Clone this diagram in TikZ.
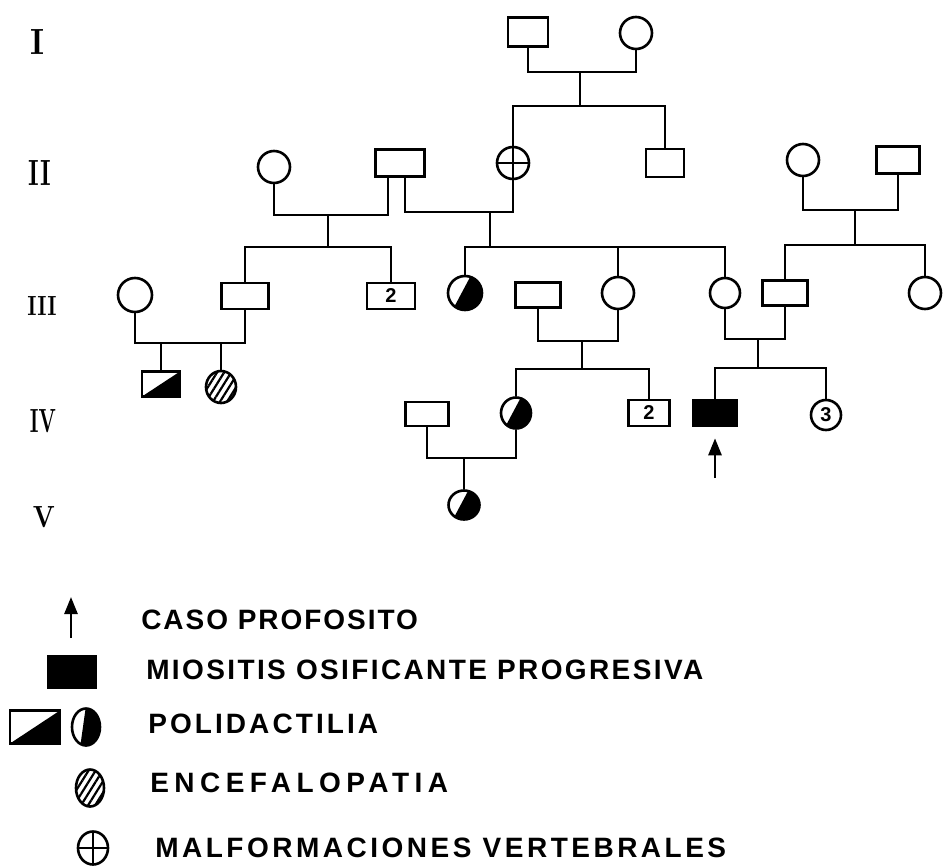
\documentclass[tikz,border=0pt]{standalone}
\usepackage{fontspec}
\usepackage{graphicx}
\newfontfamily\legendfont{Liberation Sans}
\usetikzlibrary{shapes.geometric}
\usetikzlibrary{patterns.meta}
\usetikzlibrary{arrows.meta}
\newcommand{\gen}[3]{\resizebox{#1}{#2}{\bfseries #3}}
\newcommand{\spaced}[2]{{\addfontfeature{LetterSpace=#1}#2}}
\tikzset{
  ind/.style={draw, inner sep=0pt},
  male/.style={ind, rectangle, minimum width=44pt, minimum height=26pt},
  female/.style={ind, ellipse, minimum width=32pt, minimum height=32pt},
  affected/.style={fill=black},
  halfbox/.style={path picture={\fill (path picture bounding box.south west) -- (path picture bounding box.south east) -- (path picture bounding box.north east) -- cycle;}},
  halfdisc/.style={path picture={\fill (path picture bounding box.center) ++(#1+90:3pt) ++(#1:30pt) -- ++(#1+180:60pt) -- ++(#1+270:40pt) -- ++(#1:60pt) -- cycle;}},
  halfdisc/.default=62,
  hatched/.style={pattern={Lines[angle=58,distance=6pt,line width=2.2pt]}},
  crossed/.style={path picture={\draw (path picture bounding box.north) -- (path picture bounding box.south) (path picture bounding box.west) -- (path picture bounding box.east);}},
  num/.style={font=\legendfont\bfseries\fontsize{20}{20}\selectfont},
  legend/.style={anchor=west, inner sep=0pt, font=\legendfont\bfseries\fontsize{28}{30}\selectfont},
  proband/.style={-{Triangle[length=17pt,width=13pt]}}
}

\begin{document}
\begin{tikzpicture}[x=1pt,y=-1pt,line width=2.6pt]
  \useasboundingbox (0,0) rectangle (943,867);
  % generations
  \node (gI) at (38,42) {\gen{14pt}{25pt}{I}};
  \node (gII) at (40,173) {\gen{22pt}{25pt}{II}};
  \node (gIII) at (42,306) {\gen{29pt}{19pt}{III}};
  \node (gIV) at (43,421) {\gen{26pt}{23pt}{IV}};
  \node (gV) at (44,517) {\gen{22pt}{21pt}{V}};

  % generation I
  \node[male, minimum width=40pt, minimum height=29pt] (I1) at (528,32) {};
  \node[female] (I2) at (636,33) {};
  % generation II
  \node[female] (II1) at (274,167) {};
  \node[male, minimum width=49pt, minimum height=27pt] (II2) at (400,163) {};
  \node[female, crossed] (II3) at (513,163) {};
  \node[male, minimum width=38pt, minimum height=28pt] (II4) at (665,163) {};
  \node[female] (II5) at (803,160) {};
  \node[male, minimum width=43pt, minimum height=27pt] (II6) at (898,160) {};
  % generation III
  \node[female, minimum width=34pt, minimum height=34pt] (III1) at (135,295) {};
  \node[male, minimum width=47pt] (III2) at (245,296) {};
  \node[male, minimum width=48pt, num] (III3) at (391,296) {2};
  \node[female, halfdisc, minimum width=34pt, minimum height=34pt] (III4) at (465,293) {};
  \node[male, minimum width=45pt, minimum height=25pt] (III5) at (538,295) {};
  \node[female] (III6) at (618,293) {};
  \node[female, minimum width=30pt, minimum height=30pt] (III7) at (725,293) {};
  \node[male, minimum width=45pt, minimum height=25pt] (III8) at (785,293) {};
  \node[female] (III9) at (925,293) {};
  % generation IV
  \node[male, halfbox, minimum width=38pt, minimum height=25pt] (IV1) at (161,384) {};
  \node[female, hatched, minimum width=30pt, minimum height=32pt] (IV2) at (221,387) {};
  \node[male, minimum width=43pt, minimum height=24pt] (IV3) at (427,414) {};
  \node[female, halfdisc, minimum width=30pt, minimum height=31pt] (IV4) at (516,413) {};
  \node[male, minimum width=41pt, num] (IV5) at (649,413) {2};
  \node[male, affected, minimum width=43pt] (IV6) at (715,413) {};
  \node[female, num, minimum width=30pt, minimum height=30pt] (IV7) at (826,415) {3};
  % generation V
  \node[female, halfdisc, minimum width=31pt, minimum height=29pt] (V1) at (464,505) {};

  % couples and sibships
  \coordinate (mI) at (580,72);
  \coordinate (sI) at (580,106);
  \draw (I1) |- (mI) -| (I2);
  \draw (mI) -- (sI);
  \draw (II3) |- (sI) -| (II4);

  \coordinate (mII1) at (328,215);
  \coordinate (sII1) at (328,247);
  \draw (II1) |- (mII1) -| ([xshift=-12pt]II2.south);
  \draw (mII1) -- (sII1);
  \draw (III2) |- (sII1) -| (III3);

  \coordinate (mII2) at (490,212);
  \coordinate (sII2) at (490,247);
  \draw ([xshift=5pt]II2.south) |- (mII2) -| (II3);
  \draw (mII2) -- (sII2);
  \draw (III4) |- (sII2) -| (III7);
  \draw (III6) -- (III6 |- sII2);

  \coordinate (mII3) at (855,210);
  \coordinate (sII3) at (855,245);
  \draw (II5) |- (mII3) -| (II6);
  \draw (mII3) -- (sII3);
  \draw (III8) |- (sII3) -| (III9);

  \coordinate (mIII1) at (190,343);
  \draw (III1) |- (mIII1) -| (III2);
  \draw (IV1) -- (IV1 |- mIII1);
  \draw (IV2) -- (IV2 |- mIII1);

  \coordinate (mIII2) at (582,341);
  \coordinate (sIII2) at (582,369);
  \draw (III5) |- (mIII2) -| (III6);
  \draw (mIII2) -- (sIII2);
  \draw (IV4) |- (sIII2) -| (IV5);

  \coordinate (mIII3) at (758,339);
  \coordinate (sIII3) at (758,368);
  \draw (III7) |- (mIII3) -| (III8);
  \draw (mIII3) -- (sIII3);
  \draw (IV6) |- (sIII3) -| (IV7);

  \coordinate (mIV) at (464,458);
  \draw (IV3) |- (mIV) -| (IV4);
  \draw (mIV) -- (V1);

  % proband
  \coordinate (pb) at (715,478);
  \draw[proband] (pb) -- ([yshift=-11pt]IV6.south);

  % legend
  \coordinate (la) at (71,638);
  \coordinate (lb) at (71,597);
  \draw[proband] (la) -- (lb);
  \node[legend] (L1) at (140,620) {\spaced{7}{CASO PROFOSITO}};
  \node[male, affected, minimum width=48pt, minimum height=32pt] (S2) at (72,672) {};
  \node[legend] (L2) at (145,670) {\spaced{8.5}{MIOSITIS OSIFICANTE PROGRESIVA}};
  \node[male, halfbox, minimum width=50pt, minimum height=33pt] (S3a) at (35,727) {};
  \node[female, halfdisc=82, minimum width=28pt, minimum height=37pt] (S3b) at (86,727) {};
  \node[legend] (L3) at (147,724) {\spaced{11}{POLIDACTILIA}};
  \node[female, hatched, minimum width=28pt, minimum height=37pt] (S4) at (90,788) {};
  \node[legend] (L4) at (149,783) {\spaced{19.5}{ENCEFALOPATIA}};
  \node[female, crossed, minimum width=30pt, minimum height=33pt] (S5) at (93,848) {};
  \node[legend] (L5) at (154,848) {\spaced{12.5}{MALFORMACIONES VERTEBRALES}};
\end{tikzpicture}
\end{document}
